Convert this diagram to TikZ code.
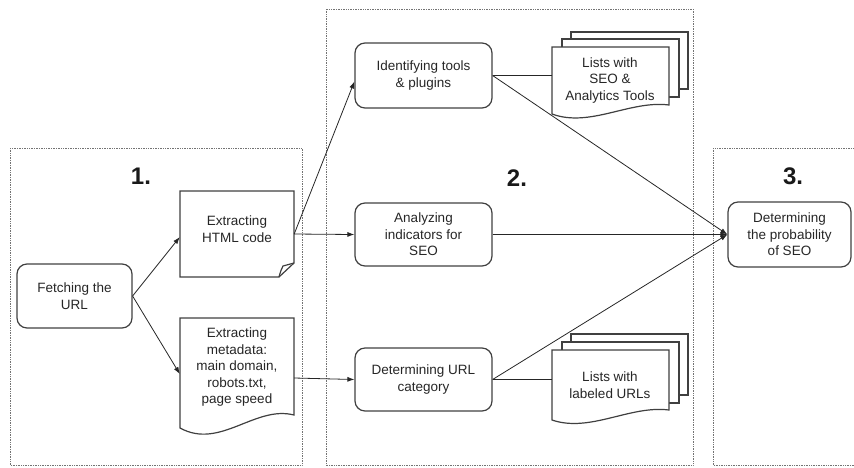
\documentclass[tikz,border=0pt]{standalone}
\usepackage{fontspec}
\setmainfont{Liberation Sans}
\usetikzlibrary{arrows.meta,calc}
\begin{document}
\begin{tikzpicture}[x=1pt,y=-1pt,
  txt/.style={font=\fontsize{13.5}{16.5}\selectfont, align=center, text=black!85},
  proc/.style={txt, draw=black!75, line width=1.2pt, rounded corners=10pt, minimum width=137pt, minimum height=64pt, inner sep=0pt},
  shapebox/.style={inner sep=0pt},
  outline/.style={draw=black!75, line width=1.2pt, fill=white, line join=miter},
  panel/.style={draw=black!55, densely dotted, line width=0.7pt},
  num/.style={font=\fontsize{24}{24}\selectfont\bfseries, text=black!90},
  conn/.style={draw=black!85, line width=0.8pt},
  arr/.style={conn, -{Latex[length=7pt,width=5pt]}},
]
\useasboundingbox (0,0) rectangle (854,467);

% panels
\draw[panel] (10,148) rectangle (302,465);
\draw[panel] (326,9) rectangle (693,465);
\draw[panel] (713,148) rectangle (870,465);
\node[num] (n1) at (141,176) {1.};
\node[num] (n2) at (517,178) {2.};
\node[num] (n3) at (793,176) {3.};

% process boxes
\node[proc, minimum width=115pt] (fetch) at (74.5,296) {Fetching the\\URL};
\node[proc, minimum height=65pt] (ident) at (423.5,75.5) {Identifying  tools\\\& plugins};
\node[proc, minimum height=63pt] (anal) at (423.5,234.5) {Analyzing\\indicators for\\SEO};
\node[proc, minimum height=63pt] (det) at (423.5,379.5) {Determining  URL\\category};
\node[proc, minimum width=123pt, minimum height=65pt] (prob) at (789.5,234.5) {Determining\\the probability\\of SEO};

% document: Extracting HTML code (folded corner)
\node[shapebox, minimum width=114pt, minimum height=86pt] (html) at (237,234) {};
\draw[outline] (180,191) -- (294,191) -- (294,263) -- (279,277) -- (180,277) -- cycle;
\draw[outline, fill=none] (294,263) .. controls (288,265) .. (283,266) .. controls (281,270) .. (279,277);
\node[txt] (htmltxt) at (237,229) {Extracting\\HTML  code};

% document: Extracting metadata (wavy bottom)
\node[shapebox, minimum width=114pt, minimum height=112pt] (meta) at (237,374) {};
\draw[outline] (180,318) -- (294,318) -- (294,415) .. controls (255,405) and (220,450) .. (180,428) -- cycle;
\node[txt] (metatxt) at (237,367) {Extracting\\metadata:\\main domain,\\robots.txt,\\page  speed};

% multi-document: Lists with SEO & Analytics Tools
\draw[outline] (571,39) -- (571,32) -- (688,32) -- (688,89) -- (679,89);
\draw[outline] (562,47) -- (562,39) -- (679,39) -- (679,97) -- (669,97);
\node[shapebox, minimum width=117pt, minimum height=68pt] (seo) at (610.5,81) {};
\draw[outline] (552,47) -- (669,47) -- (669,105) .. controls (630,100) and (590,128) .. (552,114) -- cycle;
\node[txt] (seotxt) at (610,80.5) {Lists with\\SEO \&\\Analytics Tools};

% multi-document: Lists with labeled URLs
\draw[outline] (571,342) -- (571,334) -- (688,334) -- (688,395) -- (679,395);
\draw[outline] (562,350) -- (562,342) -- (679,342) -- (679,403) -- (669,403);
\node[shapebox, minimum width=117pt, minimum height=70pt] (urls) at (610.5,385) {};
\draw[outline] (552,350) -- (669,350) -- (669,410) .. controls (630,405) and (590,433) .. (552,420) -- cycle;
\node[txt] (urlstxt) at (610,385) {Lists with\\labeled URLs};

% connectors
\draw[arr] (fetch.east) -- ($(html.west)+(0,3)$);
\draw[arr] (fetch.east) -- (meta.west);
\draw[arr] (html.east) -- ($(ident.west)+(0,6)$);
\draw[arr] (html.east) -- (anal.west);
\draw[arr] ($(meta.east)+(0,4)$) -- (det.west);
\draw[conn] (ident.east) -- (ident.east -| seo.west);
\draw[conn] (det.east) -- (det.east -| urls.west);
\draw[arr] (ident.east) -- (prob.west);
\draw[arr] (anal.east) -- (prob.west);
\draw[arr] (det.east) -- (prob.west);
\end{tikzpicture}
\end{document}
